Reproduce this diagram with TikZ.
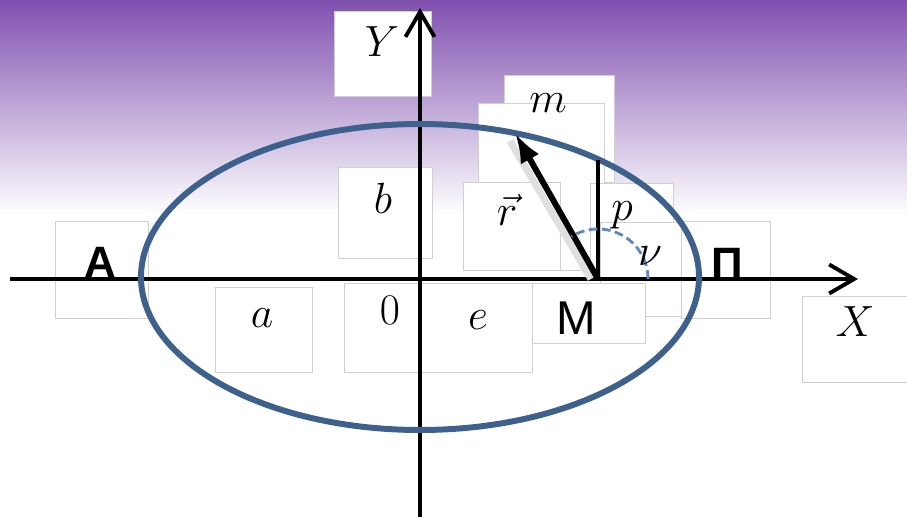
\documentclass[tikz,border=0pt]{standalone}
\usepackage{fontspec}
\setsansfont{Liberation Sans}
\usetikzlibrary{arrows.meta,positioning,calc}
\definecolor{violettop}{RGB}{128,80,176}
\definecolor{orbitblue}{RGB}{62,96,140}
\definecolor{boxgray}{RGB}{208,208,208}
\definecolor{dashblue}{RGB}{95,135,195}

\begin{document}
\begin{tikzpicture}[x=0.02cm, y=-0.02cm,
  lblbox/.style={draw=boxgray, fill=white, line width=0.4pt},
  lbl/.style={font=\fontsize{27}{30}\selectfont, inner sep=0pt},
  pole/.style={font=\fontsize{25}{30}\selectfont\sffamily\bfseries, inner sep=0pt},
  axis/.style={line width=2.2pt, -{Straight Barb[length=0.5cm, width=0.58cm, line width=2.2pt]}},
  orbit/.style={draw=orbitblue, line width=3.4pt},
  radius/.style={line width=3.4pt, -{Latex[length=0.6cm, width=0.42cm]}}
]
\useasboundingbox (0,0) rectangle (907,520);
\fill[white] (0,0) rectangle (907,520);
\shade[top color=violettop, bottom color=white] (0,0) rectangle (907,215);
% white label boxes
\foreach \xa/\ya/\xb/\yb in {334/11/431/96, 504/75/614/182, 478/103/604/270,
    463/182/560/270, 590/183/673/270, 600/222/700/316, 338/167/432/258,
    55/221/148/318, 681/221/770/318, 215/287/312/372, 344/283/420/372,
    420/283/532/372, 532/283/645/343, 802/296/907/382}
  \draw[lblbox] (\xa,\ya) rectangle (\xb,\yb);

\coordinate (O) at (420,277);
\coordinate (xs) at (10,279);
\coordinate (xe) at (858,279);
\coordinate (ys) at (420,517);
\coordinate (ye) at (420,8);
\coordinate (M) at (598,279);
\coordinate (rtip) at (515,133);
\coordinate (ptop) at (598,160);

% axes and orbit
\draw[axis] (xs) -- (xe);
\draw[axis, line width=1.8pt] (ys) -- (ye);
\draw[orbit] (O) ellipse [x radius=279, y radius=153];
% radius vector and focal parameter
\draw[gray!25, line width=4pt] ($(M)+(-7,0)$) -- ($(rtip)+(-5,8)$);
\draw[radius] (M) -- (rtip);
\draw[line width=1.8pt] (M) -- (ptop);
\draw[dashblue, line width=1.6pt, dash pattern=on 5pt off 2.5pt]
  plot[domain=0:122, samples=40] ({598+50*cos(\x)}, {279-50*sin(\x)});

% labels
\node[lbl] (ylbl) at (382,42) {$Y$};
\node[lbl] (mlbl) at (548,103) {$m$};
\node[lbl] (blbl) at (383,198) {$b$};
\node[lbl] (rlbl) at (507,210) {$\vec{r}$};
\node[lbl] (plbl) at (622,215) {$p$};
\node[lbl] (nulbl) at (650,256) {$\nu$};
\node[pole] (apo) at (100,262) {А};
\node[pole] (peri) at (727,263) {П};
\node[lbl] (albl) at (262,318) {$a$};
\node[lbl] (olbl) at (390,310) {$0$};
\node[lbl] (elbl) at (478,320) {$e$};
\node[lbl, font=\fontsize{27}{30}\selectfont\sffamily] (Mlbl) at (576,318) {M};
\node[lbl] (xlbl) at (855,322) {$X$};
\end{tikzpicture}
\end{document}
